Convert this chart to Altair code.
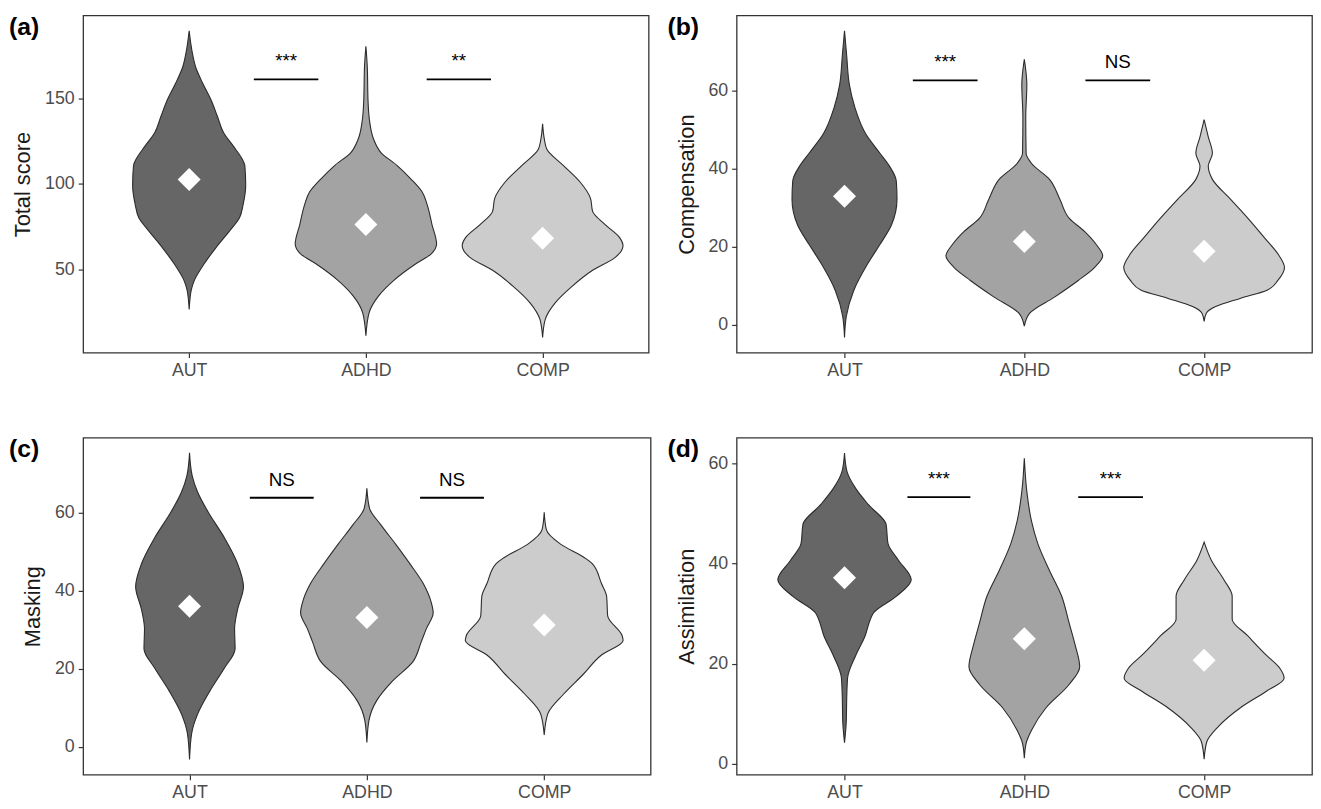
import altair as alt
import pandas as pd

GROUPS = ["AUT", "ADHD", "COMP"]
POSITIONS = [1, 2, 3]
FILLS = ["#666666", "#A3A3A3", "#CCCCCC"]

# ---------- (a) Total score : violin profiles (value, half-width in category units)
A_AUT_Y = [189.3, 177.5, 168, 158.4, 148.9, 139.3, 129.8, 122, 114.5, 110.7, 99.2, 87.8, 80.2, 72.5, 63, 53.4, 43.9, 38.2, 26.7]
A_AUT_W = [0, 0.016, 0.037, 0.078, 0.124, 0.16, 0.195, 0.25, 0.30, 0.315, 0.32, 0.305, 0.285, 0.228, 0.153, 0.085, 0.03, 0.012, 0]
A_ADHD_Y = [180.3, 168, 149, 137.4, 126, 118.3, 110.7, 103, 95.4, 87.8, 76.3, 64.9, 59.2, 53.4, 43.9, 34.4, 24.8, 11.5]
A_ADHD_W = [0, 0.008, 0.012, 0.02, 0.044, 0.085, 0.177, 0.254, 0.318, 0.347, 0.374, 0.40, 0.37, 0.283, 0.16, 0.07, 0.018, 0]
A_COMP_Y = [135, 126, 120.2, 110.7, 101.1, 91.6, 84, 76.3, 68.7, 64, 57.3, 49.6, 40.1, 30.5, 21, 10.5]
A_COMP_W = [0, 0.01, 0.024, 0.118, 0.212, 0.271, 0.283, 0.354, 0.436, 0.455, 0.413, 0.283, 0.165, 0.07, 0.015, 0]
A_MEANS = [102.5, 76.3, 68.3]

# ---------- (b) Compensation
B_AUT_Y = [75.3, 69, 61.5, 55.6, 49, 43.9, 40.6, 36.8, 32.2, 25.5, 20.5, 15.5, 8.8, 2.1, -3.3]
B_AUT_W = [0, 0.012, 0.027, 0.058, 0.116, 0.197, 0.25, 0.288, 0.292, 0.261, 0.197, 0.128, 0.052, 0.01, 0]
B_ADHD_Y = [68, 61.5, 53.1, 43.9, 41.4, 37.2, 32.2, 27.2, 23.8, 20.5, 17.6, 14.6, 11.3, 7.1, 2.9, -0.4]
B_ADHD_W = [0, 0.014, 0.008, 0.01, 0.038, 0.14, 0.197, 0.25, 0.336, 0.40, 0.436, 0.39, 0.30, 0.17, 0.03, 0]
B_COMP_Y = [52.5, 48.1, 43.9, 40.6, 37.2, 32.2, 27.2, 22.2, 18, 14.6, 11.3, 8.8, 6.7, 4.6, 2.9, 0.8]
B_COMP_W = [0, 0.023, 0.046, 0.023, 0.046, 0.145, 0.244, 0.336, 0.412, 0.447, 0.41, 0.35, 0.2, 0.064, 0.012, 0]
B_MEANS = [32.9, 21.3, 18.8]

# ---------- (c) Masking
C_AUT_Y = [75.3, 69.4, 65.2, 60.2, 53.6, 46.9, 41, 35.2, 30.2, 25.1, 20.1, 14.3, 8.4, 3.4, -3.3]
C_AUT_W = [0, 0.015, 0.046, 0.104, 0.196, 0.271, 0.304, 0.271, 0.254, 0.257, 0.196, 0.115, 0.046, 0.012, 0]
C_ADHD_Y = [66.2, 61.1, 56.9, 51.9, 46.9, 41.8, 36.8, 34.3, 30.2, 26.8, 21.8, 16.8, 11.8, 6.8, 1.1]
C_ADHD_W = [0, 0.015, 0.078, 0.162, 0.242, 0.318, 0.364, 0.374, 0.335, 0.306, 0.26, 0.144, 0.055, 0.012, 0]
C_COMP_Y = [60.1, 55.6, 51.9, 48.5, 46.9, 41.8, 38.5, 33.5, 28.5, 27.2, 23.5, 18.5, 13.5, 8.4, 3]
C_COMP_W = [0, 0.012, 0.092, 0.225, 0.271, 0.323, 0.352, 0.358, 0.439, 0.445, 0.323, 0.219, 0.11, 0.02, 0]
C_MEANS = [36, 33.1, 31.2]

# ---------- (d) Assimilation
D_AUT_Y = [62.1, 58.3, 55, 51.8, 47.9, 44, 40.7, 36.8, 33.5, 30.2, 28.9, 25.6, 21.7, 17.1, 12.6, 8.6, 4.2]
D_AUT_W = [0, 0.015, 0.063, 0.133, 0.231, 0.242, 0.3, 0.371, 0.289, 0.162, 0.144, 0.115, 0.063, 0.017, 0.012, 0.01, 0]
D_ADHD_Y = [61.1, 54.4, 48.5, 44, 38.7, 33.5, 28.3, 23.7, 19.4, 15.8, 11.2, 6.7, 4.1, 1.1]
D_ADHD_W = [0, 0.014, 0.04, 0.075, 0.139, 0.208, 0.248, 0.283, 0.308, 0.248, 0.121, 0.04, 0.01, 0]
D_COMP_Y = [44.3, 40.7, 36.8, 33.5, 28.9, 25.6, 21.7, 19.1, 17.1, 14.5, 11.2, 7.3, 4.4, 0.9]
D_COMP_W = [0, 0.04, 0.11, 0.156, 0.156, 0.242, 0.346, 0.421, 0.445, 0.346, 0.202, 0.075, 0.015, 0]
D_MEANS = [37.2, 25, 20.7]

# ---------- significance bars: start, end (category units), height, label
A_SIG_X1 = [1.366, 2.344]; A_SIG_X2 = [1.731, 2.708]; A_SIG_Y = [161, 161]; A_SIG_T = ["***", "**"]
B_SIG_X1 = [1.38, 2.34];   B_SIG_X2 = [1.74, 2.70];   B_SIG_Y = [62.6, 62.6]; B_SIG_T = ["***", "NS"]
C_SIG_X1 = [1.34, 2.30];   C_SIG_X2 = [1.70, 2.66];   C_SIG_Y = [63.8, 63.8]; C_SIG_T = ["NS", "NS"]
D_SIG_X1 = [1.35, 2.30];   D_SIG_X2 = [1.70, 2.66];   D_SIG_Y = [53.3, 53.3]; D_SIG_T = ["***", "***"]

# ---------- axes
A_DOMAIN = [1.6, 198.2]; A_TICKS = [50, 100, 150]
B_DOMAIN = [-7.2, 79.2]; B_TICKS = [0, 20, 40, 60]
C_DOMAIN = [-7.2, 79.2]; C_TICKS = [0, 20, 40, 60]
D_DOMAIN = [-2.2, 65.2]; D_TICKS = [0, 20, 40, 60]
TITLES = ["Total score", "Compensation", "Masking", "Assimilation"]
TAGS = ["(a)", "(b)", "(c)", "(d)"]

FONT = "Liberation Sans"
label_expr = " : ".join(
    f"datum.value == {p} ? '{g}'" for p, g in zip(POSITIONS[:-1], GROUPS[:-1])
) + f" : '{GROUPS[-1]}'"


def panel(ys, ws, means, sx1, sx2, sy, st, domain, ticks, ytitle, tag, width, tdx):
    rows = []
    for g, p, yl, wl in zip(GROUPS, POSITIONS, ys, ws):
        for y, w in zip(yl, wl):
            rows.append({"group": g, "pos": p, "value": y, "hw": w})
    vdf = pd.DataFrame(rows)
    mdf = pd.DataFrame({"group": GROUPS, "pos": POSITIONS, "mean": means})
    sdf = pd.DataFrame({"x1": sx1, "x2": sx2, "yv": sy, "label": st})

    xs = alt.Scale(domain=[0.4, 3.6], nice=False, zero=False)
    ysc = alt.Scale(domain=domain, nice=False, zero=False)
    xaxis = alt.Axis(values=POSITIONS, labelExpr=label_expr, title=None)
    yaxis = alt.Axis(values=ticks, title=ytitle)

    violin = alt.Chart(vdf).transform_calculate(
        lo="datum.pos - datum.hw", hi="datum.pos + datum.hw"
    ).mark_area(
        orient="horizontal", interpolate="monotone", stroke="#2b2b2b", strokeWidth=1.1, opacity=1
    ).encode(
        y=alt.Y("value:Q", scale=ysc, axis=yaxis),
        x=alt.X("lo:Q", scale=xs, axis=xaxis),
        x2="hi:Q",
        fill=alt.Fill("group:N", scale=alt.Scale(domain=GROUPS, range=FILLS), legend=None),
        detail="group:N",
    )

    pts = alt.Chart(mdf).mark_point(
        shape="diamond", filled=True, color="white", size=540, opacity=1
    ).encode(
        x=alt.X("pos:Q", scale=xs, axis=xaxis),
        y=alt.Y("mean:Q", scale=ysc, axis=yaxis),
    )

    bars = alt.Chart(sdf).mark_rule(color="black", strokeWidth=1.8).encode(
        x=alt.X("x1:Q", scale=xs, axis=xaxis),
        x2="x2:Q",
        y=alt.Y("yv:Q", scale=ysc, axis=yaxis),
    )

    labels = alt.Chart(sdf).transform_calculate(
        xm="(datum.x1 + datum.x2) / 2"
    ).mark_text(
        font=FONT, fontSize=19, dy=-12, baseline="alphabetic", align="center", color="black"
    ).encode(
        x=alt.X("xm:Q", scale=xs, axis=xaxis),
        y=alt.Y("yv:Q", scale=ysc, axis=yaxis),
        text="label:N",
    )

    return alt.layer(violin, pts, bars, labels).properties(
        width=width,
        height=341,
        title=alt.TitleParams(
            text=tag, anchor="start", frame="bounds", fontSize=25, fontWeight="bold",
            font=FONT, color="black", dx=tdx, dy=29,
        ),
    )


pa = panel([A_AUT_Y, A_ADHD_Y, A_COMP_Y], [A_AUT_W, A_ADHD_W, A_COMP_W], A_MEANS,
           A_SIG_X1, A_SIG_X2, A_SIG_Y, A_SIG_T, A_DOMAIN, A_TICKS, TITLES[0], TAGS[0], 572, -3)
pb = panel([B_AUT_Y, B_ADHD_Y, B_COMP_Y], [B_AUT_W, B_ADHD_W, B_COMP_W], B_MEANS,
           B_SIG_X1, B_SIG_X2, B_SIG_Y, B_SIG_T, B_DOMAIN, B_TICKS, TITLES[1], TAGS[1], 582, -8)
pc = panel([C_AUT_Y, C_ADHD_Y, C_COMP_Y], [C_AUT_W, C_ADHD_W, C_COMP_W], C_MEANS,
           C_SIG_X1, C_SIG_X2, C_SIG_Y, C_SIG_T, C_DOMAIN, C_TICKS, TITLES[2], TAGS[2], 574, -13)
pd_ = panel([D_AUT_Y, D_ADHD_Y, D_COMP_Y], [D_AUT_W, D_ADHD_W, D_COMP_W], D_MEANS,
            D_SIG_X1, D_SIG_X2, D_SIG_Y, D_SIG_T, D_DOMAIN, D_TICKS, TITLES[3], TAGS[3], 582, -8)

row1 = alt.hconcat(pa, pb, spacing=17)
row2 = alt.hconcat(pc, pd_, spacing=15)

chart = alt.vconcat(row1, row2, spacing=57).properties(
    padding={"left": 0, "top": 2, "right": 0, "bottom": 0}
).configure_view(
    stroke="#333333", strokeWidth=1.3
).configure_axis(
    labelFont=FONT, titleFont=FONT, labelFontSize=18, titleFontSize=22,
    labelColor="#4D4D4D", titleColor="#1A1A1A", titleFontWeight="normal",
    tickColor="#333333", tickSize=5, tickWidth=1.2, grid=False, domain=False,
).configure_axisX(
    labelPadding=4
).configure_axisY(
    labelPadding=4, titlePadding=10
)

chart.save("out.html", embed_options={"renderer": "svg", "actions": False})
